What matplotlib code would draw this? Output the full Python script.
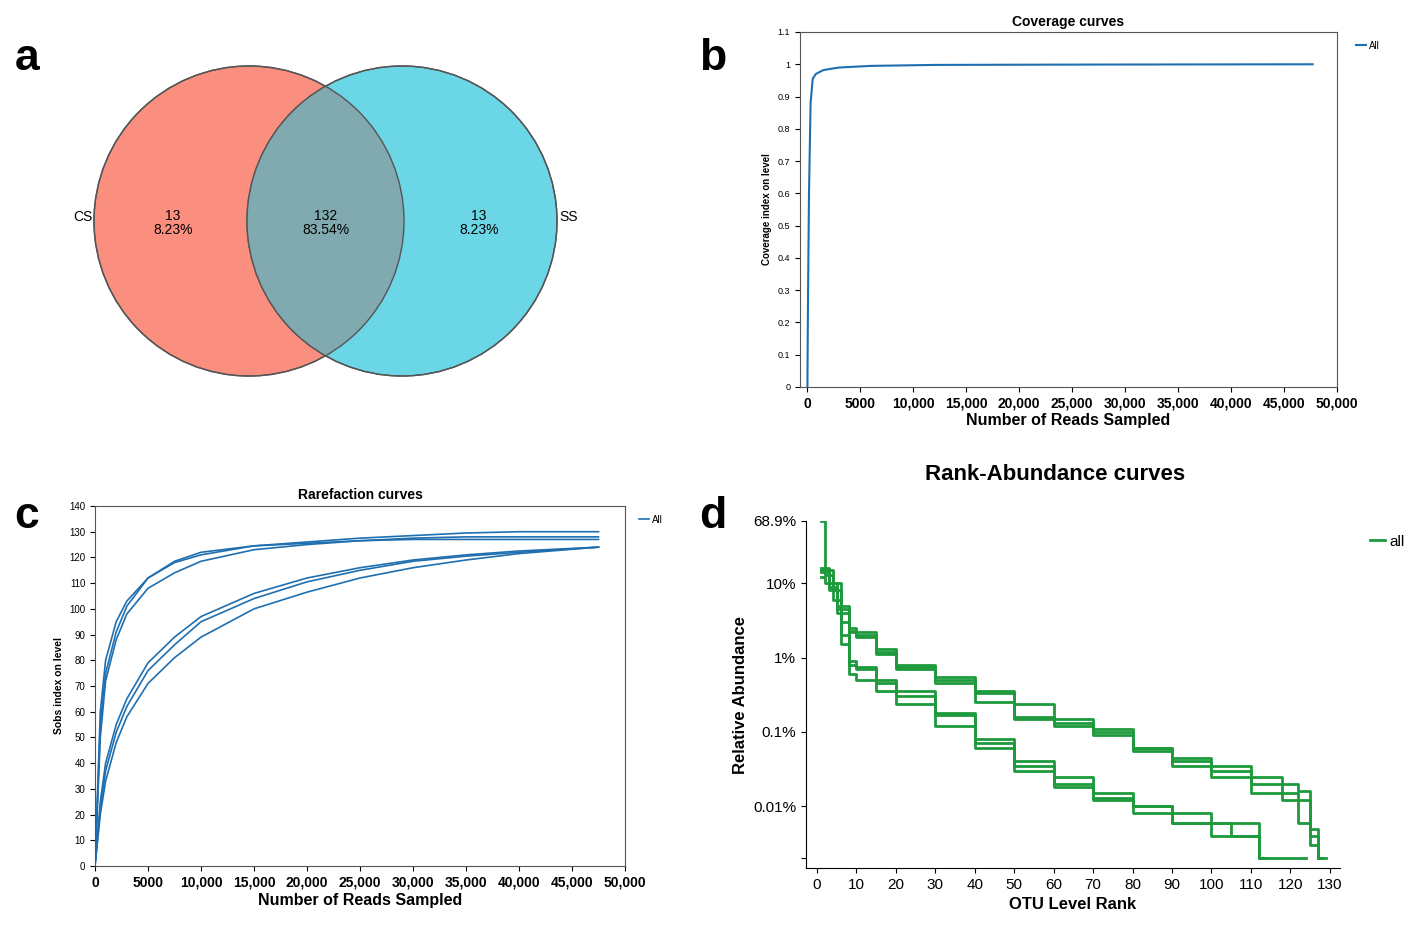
import matplotlib
matplotlib.use('Agg')
import matplotlib.pyplot as plt
from matplotlib.patches import Circle
import numpy as np

plt.rcParams['font.family'] = ['Liberation Sans', 'DejaVu Sans']

W, H = 1407, 925
BLUE = '#1f6fb0'
GREEN = '#1e9a3c'

# ---- panel a: Venn ----
venn_names = ['CS', 'SS']
venn_counts = ['13\n8.23%', '132\n83.54%', '13\n8.23%']

# ---- panel b: coverage ----
cov_x = [0, 50, 150, 300, 500, 800, 1500, 3000, 6000, 12000, 25000, 47700]
cov_y = [0, 0.25, 0.6, 0.88, 0.955, 0.97, 0.982, 0.99, 0.995, 0.998, 0.999, 1.0]

# ---- panel c: rarefaction ----
rare_x = [0, 500, 1000, 2000, 3000, 5000, 7500, 10000, 15000, 20000, 25000, 30000, 35000, 40000, 47500]
rare_curves = [
    [0, 60, 80, 95, 103, 112, 118, 121, 124.5, 125.5, 126.5, 127, 127, 127, 127],
    [0, 55, 75, 91, 101, 112, 118.5, 122, 124.5, 126, 127.5, 128.5, 129.5, 130, 130],
    [0, 50, 72, 88, 98, 108, 114, 118.5, 123, 125, 126.5, 127.5, 128, 128, 128],
    [0, 25, 40, 55, 65, 79, 89, 97, 106, 112, 116, 119, 121, 122.5, 124],
    [0, 22, 37, 52, 62, 76, 86, 95, 104, 110.5, 115, 118.5, 120.5, 122, 124],
    [0, 20, 33, 48, 58, 71, 81, 89, 100, 106.5, 112, 116, 119, 121.5, 124],
]

# ---- panel d: rank-abundance ----
ra_upper_ranks = [1, 3, 5, 8, 10, 15, 20, 30, 40, 50, 60, 70, 80, 90, 100, 110, 118, 122, 125, 127]
ra_upper = [
    ([0.16, 0.10, 0.05, 0.025, 0.022, 0.013, 0.008, 0.0055, 0.0035, 0.0024, 0.0015, 0.0011, 0.0006, 0.00045, 0.00035, 0.00025, 0.0002, 0.00016, 0.00005, 0.00002], 129),
    ([0.14, 0.09, 0.045, 0.023, 0.02, 0.012, 0.0075, 0.005, 0.0033, 0.0016, 0.0013, 0.001, 0.0006, 0.0004, 0.0003, 0.0002, 0.00015, 0.00012, 0.00004, 0.00002], 128),
    ([0.15, 0.08, 0.04, 0.022, 0.019, 0.011, 0.007, 0.0045, 0.0025, 0.0015, 0.0012, 0.0009, 0.00055, 0.00035, 0.00025, 0.00015, 0.00012, 0.00006, 0.00003, 0.00002], 127),
]
ra_lower_ranks = [1, 2, 4, 6, 8, 10, 15, 20, 30, 40, 50, 60, 70, 80, 90, 100, 105, 110, 112]
ra_lower = [
    ([0.689, 0.15, 0.08, 0.02, 0.009, 0.0075, 0.005, 0.0035, 0.0018, 0.0008, 0.0004, 0.00025, 0.00015, 0.0001, 0.00008, 0.00006, 0.00006, 0.00006, 0.00002], 114),
    ([0.15, 0.13, 0.10, 0.03, 0.008, 0.007, 0.0045, 0.003, 0.0017, 0.0007, 0.00035, 0.0002, 0.00013, 0.0001, 0.00006, 0.00006, 0.00004, 0.00004, 0.00002], 124),
    ([0.12, 0.10, 0.06, 0.015, 0.006, 0.005, 0.0035, 0.0024, 0.0012, 0.0006, 0.0003, 0.00018, 0.00012, 0.00008, 0.00006, 0.00004, 0.00004, 0.00004, 0.00002], 113),
]

fig = plt.figure(figsize=(W / 100, H / 100), dpi=100)


def add_ax(l, t, r, b):
    return fig.add_axes([l / W, 1 - b / H, (r - l) / W, (b - t) / H])


# ================= a =================
axa = add_ax(60, 50, 600, 400)
axa.set_xlim(60, 600)
axa.set_ylim(400, 50)
axa.set_aspect('equal')
axa.axis('off')
c1 = Circle((249, 221), 155, facecolor='#fa8f80', edgecolor='#555555', lw=1)
c2 = Circle((402, 221), 155, facecolor='#6bd6e6', edgecolor='#555555', lw=1)
axa.add_patch(c1)
axa.add_patch(c2)
c3 = Circle((402, 221), 155, facecolor='#80aab0', edgecolor='none')
axa.add_patch(c3)
c3.set_clip_path(Circle((249, 221), 155, transform=axa.transData))
axa.add_patch(Circle((249, 221), 155, facecolor='none', edgecolor='#555555', lw=1))
axa.add_patch(Circle((402, 221), 155, facecolor='none', edgecolor='#555555', lw=1))
axa.text(83, 217, venn_names[0], ha='center', va='center', fontsize=10)
axa.text(569, 217, venn_names[1], ha='center', va='center', fontsize=10)
for xx, s in zip([173, 326, 479], venn_counts):
    axa.text(xx, 223, s, ha='center', va='center', fontsize=10, linespacing=1.0)

# ================= b =================
axb = add_ax(800, 32, 1337, 387)
axb.plot(cov_x, cov_y, color=BLUE, lw=1.5, label='All')
axb.set_xlim(-700, 50000)
axb.set_ylim(0, 1.1)
axb.set_yticks(np.arange(0, 1.11, 0.1))
axb.set_yticklabels(['0', '0.1', '0.2', '0.3', '0.4', '0.5', '0.6', '0.7', '0.8', '0.9', '1', '1.1'], fontsize=6.5)
axb.set_xticks(np.arange(0, 50001, 5000))
axb.set_xticklabels(['0', '5000'] + [f'{v:,}' for v in range(10000, 50001, 5000)], fontsize=10, fontweight='bold')
axb.set_xlabel('Number of Reads Sampled', fontsize=11.5, fontweight='bold', labelpad=2)
axb.set_ylabel('Coverage index on level', fontsize=7, fontweight='bold')
axb.set_title('Coverage curves', fontsize=10, fontweight='bold', pad=4)
axb.legend(loc='upper left', bbox_to_anchor=(1.02, 1.0), frameon=False, fontsize=7, handlelength=1, handletextpad=0.3)
for s in axb.spines.values():
    s.set_color('#555555')

# ================= c =================
axc = add_ax(95, 506, 625, 866)
for i, ys in enumerate(rare_curves):
    axc.plot(rare_x, ys, color=BLUE, lw=1.2, label='All' if i == 0 else None)
axc.set_xlim(0, 50000)
axc.set_ylim(0, 140)
axc.set_yticks(range(0, 141, 10))
axc.tick_params(axis='y', labelsize=7)
axc.set_xticks(np.arange(0, 50001, 5000))
axc.set_xticklabels(['0', '5000'] + [f'{v:,}' for v in range(10000, 50001, 5000)], fontsize=10, fontweight='bold')
axc.set_xlabel('Number of Reads Sampled', fontsize=11.5, fontweight='bold', labelpad=2)
axc.set_ylabel('Sobs index on level', fontsize=7.5, fontweight='bold')
axc.set_title('Rarefaction curves', fontsize=10, fontweight='bold', pad=5)
axc.legend(loc='upper left', bbox_to_anchor=(1.01, 1.0), frameon=False, fontsize=7, handlelength=1, handletextpad=0.3)
for s in axc.spines.values():
    s.set_color('#555555')

# ================= d =================
axd = add_ax(806, 521, 1340, 868)
for i, (vals, end) in enumerate(ra_upper):
    axd.plot(ra_upper_ranks + [end], vals + [vals[-1]], color=GREEN, lw=2, drawstyle='steps-post',
             label='all' if i == 0 else None)
for vals, end in ra_lower:
    axd.plot(ra_lower_ranks + [end], vals + [vals[-1]], color=GREEN, lw=2, drawstyle='steps-post')
axd.set_yscale('log')
axd.set_ylim(1.47e-5, 0.689)
axd.set_xlim(-2.8, 132.6)
axd.set_yticks([0.689, 0.1, 0.01, 0.001, 0.0001, 2e-5])
axd.set_yticklabels(['68.9%', '10%', '1%', '0.1%', '0.01%', ''], fontsize=11)
axd.minorticks_off()
axd.set_xticks(range(0, 131, 10))
axd.tick_params(axis='x', labelsize=11)
axd.set_xlabel('OTU Level Rank', fontsize=12, fontweight='bold')
axd.set_ylabel('Relative Abundance', fontsize=12, fontweight='bold')
axd.spines['top'].set_visible(False)
axd.spines['right'].set_visible(False)
axd.legend(loc='upper left', bbox_to_anchor=(1.03, 1.0), frameon=False, fontsize=11, handlelength=1, handletextpad=0.3)
fig.text(1055 / W, 1 - 475 / H, 'Rank-Abundance curves', ha='center', va='center', fontsize=16, fontweight='bold')

# panel letters
for ch, xx, yy in [('a', 27, 58), ('b', 713, 58), ('c', 27, 517), ('d', 713, 517)]:
    fig.text(xx / W, 1 - yy / H, ch, ha='center', va='center', fontsize=32, fontweight='bold')

fig.savefig('out.png', dpi=100)
